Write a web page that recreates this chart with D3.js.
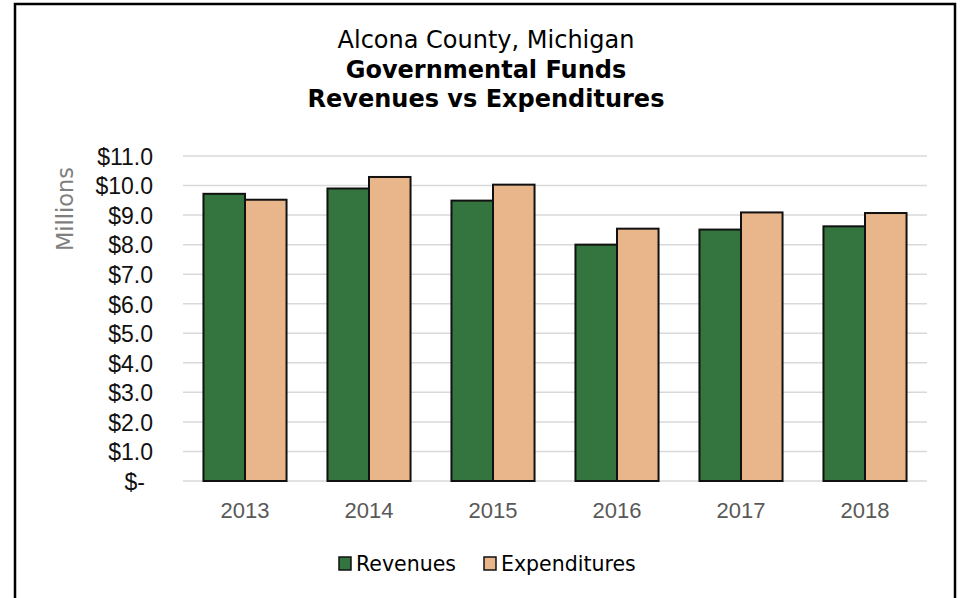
<!DOCTYPE html>
<html>
<head>
<meta charset="utf-8">
<script src="https://cdn.jsdelivr.net/npm/d3@7"></script>
<style>
  html, body { margin: 0; padding: 0; background: #fff; }
  svg { display: block; font-family: "DejaVu Sans", Tahoma, sans-serif; }
  .grid line { stroke: #d9d9d9; stroke-width: 1.5; }
  .bar { stroke: #111; stroke-width: 2; }
</style>
</head>
<body>
<svg id="chart" width="961" height="598"></svg>
<script>
const WIDTH = 961;
const HEIGHT = 598;

const YEARS = ["2013", "2014", "2015", "2016", "2017", "2018"];
const REVENUES = [9.72, 9.90, 9.49, 8.00, 8.51, 8.62];
const EXPENDITURES = [9.52, 10.29, 10.03, 8.54, 9.09, 9.07];
const SERIES = ["Revenues", "Expenditures"];
const Y_TICKS = [0, 1, 2, 3, 4, 5, 6, 7, 8, 9, 10, 11];
const TITLE_LINES = ["Alcona County, Michigan", "Governmental Funds", "Revenues vs Expenditures"];

const COLORS = {
  Revenues: "#34743f",
  Expenditures: "#e8b68a"
};

const margin = { left: 183, right: 34, top: 156, bottom: 117 };
const svg = d3.select("#chart");

// frame round the chart
svg.append("rect")
  .attr("x", 15)
  .attr("y", 4)
  .attr("width", 940)
  .attr("height", 610)
  .attr("fill", "none")
  .attr("stroke", "#000")
  .attr("stroke-width", 2.5);

const x = d3.scaleBand()
  .domain(YEARS)
  .range([margin.left, WIDTH - margin.right])
  .paddingInner(0.33)
  .paddingOuter(0.165);

const xInner = d3.scaleBand()
  .domain(SERIES)
  .range([0, x.bandwidth()]);

const y = d3.scaleLinear()
  .domain([0, 11])
  .range([HEIGHT - margin.bottom, margin.top]);

const rows = YEARS.map((year, i) => ({
  year,
  values: [
    { key: "Revenues", value: REVENUES[i] },
    { key: "Expenditures", value: EXPENDITURES[i] }
  ]
}));

// gridlines
svg.append("g")
  .attr("class", "grid")
  .selectAll("line")
  .data(Y_TICKS)
  .join("line")
  .attr("x1", margin.left)
  .attr("x2", WIDTH - margin.right)
  .attr("y1", (d) => y(d))
  .attr("y2", (d) => y(d));

// y tick labels
const yAxis = d3.axisLeft(y)
  .tickValues(Y_TICKS)
  .tickSize(0)
  .tickPadding(0)
  .tickFormat((d) => d === 0 ? "$-" : `$${d.toFixed(1)}`);

const yAxisG = svg.append("g")
  .attr("transform", `translate(${margin.left - 30},0)`)
  .call(yAxis);
yAxisG.select(".domain").remove();
yAxisG.selectAll("text")
  .attr("fill", "#111")
  .style("font-size", "23px")
  .attr("dy", "0.36em");
yAxisG.selectAll(".tick")
  .filter((d) => d === 0)
  .select("text")
  .attr("x", -8);

// x labels
const xAxis = d3.axisBottom(x).tickSize(0).tickPadding(0);
const xAxisG = svg.append("g")
  .attr("transform", `translate(0,${HEIGHT - margin.bottom})`)
  .call(xAxis);
xAxisG.select(".domain").remove();
xAxisG.selectAll("text")
  .attr("fill", "#595959")
  .style("font-size", "22px")
  .attr("y", 37)
  .attr("dy", 0);

// bars
svg.append("g")
  .selectAll("g")
  .data(rows)
  .join("g")
  .attr("transform", (d) => `translate(${x(d.year)},0)`)
  .selectAll("rect")
  .data((d) => d.values)
  .join("rect")
  .attr("class", "bar")
  .attr("x", (d) => xInner(d.key))
  .attr("width", xInner.bandwidth())
  .attr("y", (d) => y(d.value))
  .attr("height", (d) => y(0) - y(d.value))
  .attr("fill", (d) => COLORS[d.key]);

// y axis title
svg.append("text")
  .attr("transform", "translate(73,209) rotate(-90)")
  .attr("text-anchor", "middle")
  .attr("fill", "#7f7f7f")
  .style("font-size", "22.5px")
  .text("Millions");

// title
svg.append("g")
  .selectAll("text")
  .data(TITLE_LINES)
  .join("text")
  .attr("x", 486)
  .attr("y", (d, i) => 48 + i * 29.5)
  .attr("text-anchor", "middle")
  .attr("fill", "#000")
  .style("font-size", "24px")
  .style("font-weight", (d, i) => i === 0 ? "normal" : "bold")
  .text((d) => d);

// legend
const legendX = [339, 484];
const legend = svg.append("g")
  .selectAll("g")
  .data(SERIES)
  .join("g")
  .attr("transform", (d, i) => `translate(${legendX[i]},557)`);

legend.append("rect")
  .attr("width", 12)
  .attr("height", 13)
  .attr("fill", (d) => COLORS[d])
  .attr("stroke", "#111")
  .attr("stroke-width", 1.5);

legend.append("text")
  .attr("x", 17)
  .attr("y", 13.5)
  .attr("fill", "#000")
  .style("font-size", "20.5px")
  .text((d) => d);
</script>
</body>
</html>
